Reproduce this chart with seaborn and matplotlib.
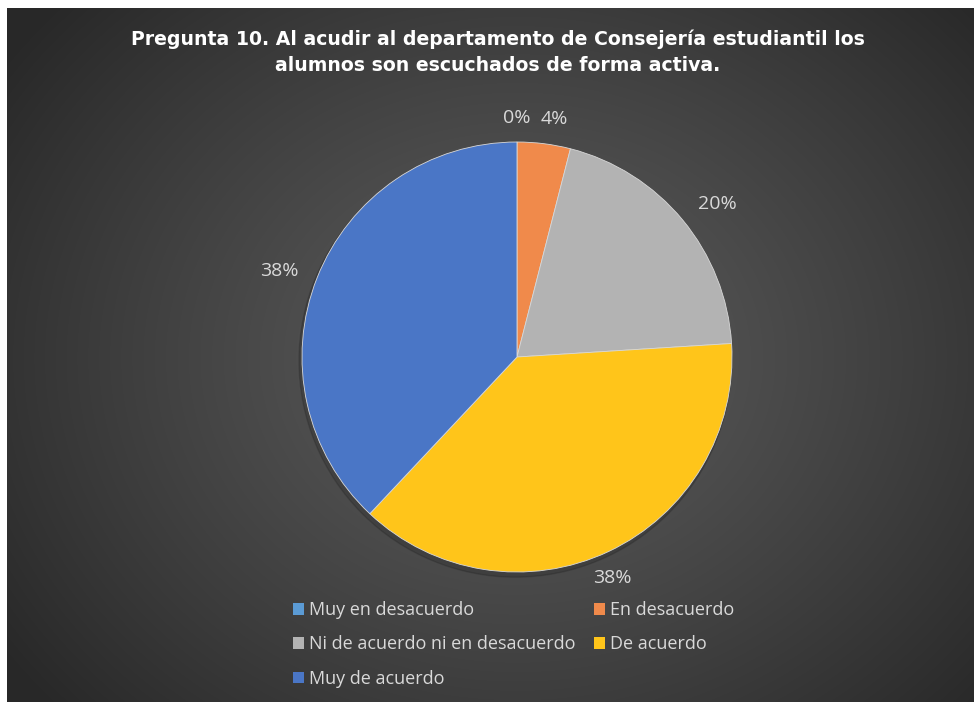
import matplotlib
matplotlib.use("Agg")
import matplotlib.pyplot as plt
import seaborn as sns
import numpy as np

sns.set_theme(style="white")
plt.rcParams['font.family'] = ['Open Sans', 'DejaVu Sans']

categorias = ['Muy en desacuerdo', 'En desacuerdo', 'Ni de acuerdo ni en desacuerdo',
              'De acuerdo', 'Muy de acuerdo']
respuestas = [0, 2, 10, 19, 19]
colores = ['#5B9BD5', '#F08A4B', '#B3B3B3', '#FFC51A', '#4A76C6']
titulo = ('Pregunta 10. Al acudir al departamento de Consejería estudiantil los\n'
          'alumnos son escuchados de forma activa.')

fig = plt.figure(figsize=(9.74, 7.02), dpi=100, facecolor='white')

# fondo con degradado radial
bg = fig.add_axes([7 / 974, 0, 967 / 974, 694 / 702])
yy, xx = np.mgrid[0:694, 0:967]
d = np.sqrt(((xx - 510) / 620.0) ** 2 + ((yy - 350) / 520.0) ** 2)
d = np.clip(d, 0, 1)
lvl = 0.36 - 0.20 * d ** 1.2
img = np.dstack([lvl, lvl, lvl])
bg.imshow(img, aspect='auto', extent=[0, 1, 0, 1], origin='upper')
bg.set_axis_off()

ax = fig.add_axes([237.5 / 974, 65.5 / 702, 559 / 974, 559 / 702])

# sombra
sombra = plt.Circle((-0.008, -0.018), 1.006, color='black', alpha=0.14, zorder=0)
ax.add_patch(sombra)

wedges, textos, pcts = ax.pie(
    respuestas, colors=colores, startangle=90, counterclock=False,
    autopct='%1.0f%%', pctdistance=1.0, radius=1.0,
    wedgeprops=dict(edgecolor='#d8d8d8', linewidth=0.6),
    textprops=dict(color='#D9D9D9', fontsize=14))
for w in wedges:
    w.set_zorder(2)
# distancia de cada etiqueta + pequeño desplazamiento (tipo "mejor ajuste")
dist = [1.11, 1.13, 1.18, 1.12, 1.19]
desp = [(0.0, 0.0), (0.03, -0.012), (0.025, -0.04), (-0.035, -0.015), (0.0, -0.037)]
for t, k, (dx, dy) in zip(pcts, dist, desp):
    x, y = t.get_position()
    t.set_position((x * k + dx, y * k + dy))
ax.set_xlim(-1.3, 1.3)
ax.set_ylim(-1.3, 1.3)
ax.set_axis_off()

fig.text(0.511, 0.958, titulo, ha='center', va='top', color='white',
         fontsize=13.6, fontweight='bold', linespacing=1.5,
         family='DejaVu Sans')

orden = [0, 2, 4, 1, 3]
leg = fig.legend([wedges[i] for i in orden], [categorias[i] for i in orden],
                 ncol=2, loc='upper left', bbox_to_anchor=(286 / 974, 1 - 594 / 702),
                 frameon=False, fontsize=13, labelcolor='#D9D9D9',
                 handlelength=0.6, handleheight=0.6, handletextpad=0.3,
                 columnspacing=1.0, labelspacing=0.9, borderaxespad=0)
for h in leg.legend_handles:
    h.set_edgecolor('none')

fig.savefig('out.png', dpi=100, facecolor='white')
